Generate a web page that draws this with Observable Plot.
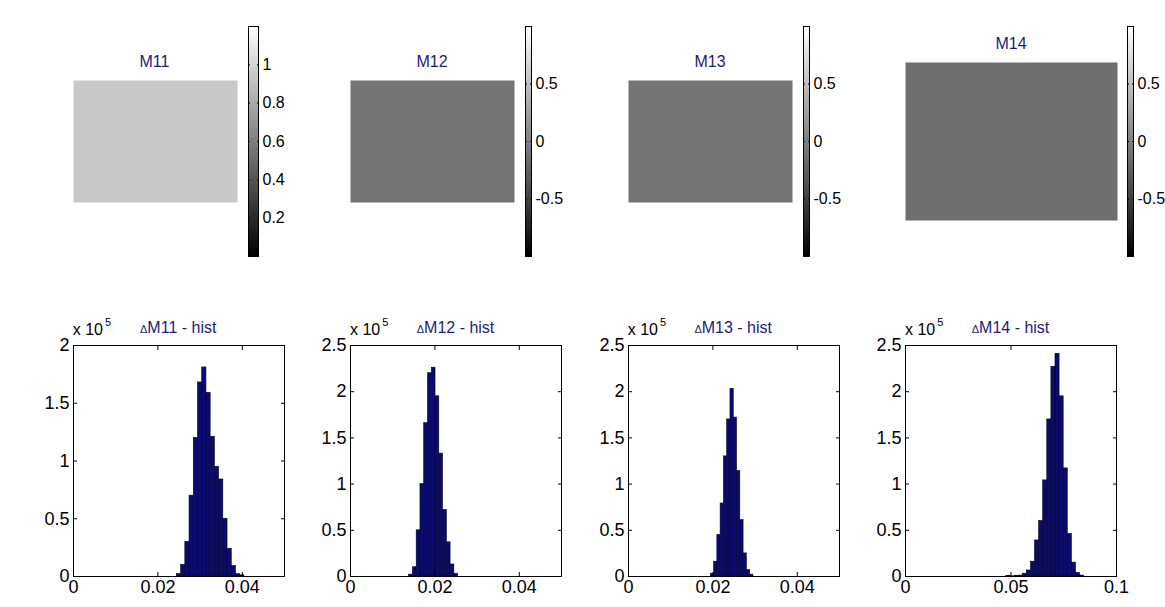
<!DOCTYPE html>
<html><head><meta charset="utf-8">
<script src="https://cdn.jsdelivr.net/npm/d3@7"></script>
<script src="https://cdn.jsdelivr.net/npm/@observablehq/plot@0.6"></script>
<style>
html,body{margin:0;padding:0;background:#fff;}
#root{position:relative;width:1165px;height:607px;overflow:hidden;font-family:"Liberation Sans",Arial,sans-serif;background:#fff;}
.title{position:absolute;color:#1c1c78;font-size:16px;white-space:nowrap;transform:translateX(-50%);line-height:1;}
.mult{position:absolute;color:#000;font-size:16px;white-space:nowrap;line-height:1;}
.mult sup{font-size:11px;position:relative;top:-3px;margin-left:2px;}
svg{overflow:visible;}
</style></head><body><div id="root"></div>
<script>
// ---- data ----
const matrixNames = ["M11", "M12", "M13", "M14"];
const imageValues = [0.94, -0.08, -0.08, -0.14];
const colorbarLow = [0, -1, -1, -1];
const colorbarHigh = [1.2, 1, 1, 1];
const colorbarTicks = [[0.2, 0.4, 0.6, 0.8, 1], [-0.5, 0, 0.5], [-0.5, 0, 0.5], [-0.5, 0, 0.5]];

const histNames = ["M11", "M12", "M13", "M14"];
const hist11Counts = [0.02, 0.10, 0.30, 0.70, 1.20, 1.68, 1.81, 1.59, 1.21, 0.95, 0.84, 0.50, 0.24, 0.09, 0.02, 0.01];
const hist12Counts = [0.02, 0.10, 0.50, 1.00, 1.66, 2.20, 2.26, 1.95, 1.33, 0.72, 0.37, 0.13, 0.03];
const hist13Counts = [0.03, 0.16, 0.45, 0.79, 1.30, 1.70, 2.03, 1.72, 1.14, 0.61, 0.25, 0.07, 0.02];
const hist14Counts = [0.004, 0.002, 0.004, 0.01, 0.03, 0.065, 0.16, 0.39, 0.60, 1.04, 1.70, 2.27, 2.41, 1.95, 1.17, 0.46, 0.15, 0.04, 0.01];
const histBinStart = [0.0245, 0.0139, 0.0195, 0.0478];
const histBinEnd = [0.0405, 0.0255, 0.0296, 0.08466];
const histXMax = [0.05, 0.05, 0.05, 0.1];
const histXTicks = [[0, 0.02, 0.04], [0, 0.02, 0.04], [0, 0.02, 0.04], [0, 0.05, 0.1]];
const histYMax = [2, 2.5, 2.5, 2.5];
const histYTicks = [[0, 0.5, 1, 1.5, 2], [0, 0.5, 1, 1.5, 2, 2.5], [0, 0.5, 1, 1.5, 2, 2.5], [0, 0.5, 1, 1.5, 2, 2.5]];

// ---- layout (pixels) ----
const imgBoxes = [{x: 72.5, y: 80, w: 164, h: 122}, {x: 350, y: 80, w: 164, h: 122}, {x: 628, y: 80, w: 164, h: 122}, {x: 905, y: 62, w: 212, h: 158}];
const cbBoxes = [{x: 248.3, w: 10}, {x: 524.7, w: 6}, {x: 802.7, w: 6}, {x: 1127, w: 6}];
const cbTop = 26, cbHeight = 230;
const histLeft = [72.7, 350, 627.7, 905];
const histTop = 345, histW = 211, histH = 231;
const FONT = "Liberation Sans, Arial, sans-serif";

const root = document.getElementById("root");
function place(el, x, y) {
  el.style.position = "absolute";
  el.style.left = x + "px";
  el.style.top = y + "px";
  root.appendChild(el);
}
function addDiv(cls, html, x, y) {
  const d = document.createElement("div");
  d.className = cls;
  d.innerHTML = html;
  d.style.left = x + "px";
  d.style.top = y + "px";
  root.appendChild(d);
}
const grayScale = (lo, hi) => ({type: "linear", domain: [lo, hi], range: ["black", "white"], interpolate: "rgb"});

// ---- top row: images + colorbars ----
for (let i = 0; i < 4; i++) {
  const b = imgBoxes[i];
  const img = Plot.plot({
    width: b.w, height: b.h, margin: 0,
    style: {background: "transparent"},
    x: {domain: [0, 1], axis: null},
    y: {domain: [0, 1], axis: null},
    color: grayScale(colorbarLow[i], colorbarHigh[i]),
    marks: [Plot.raster([imageValues[i]], {width: 1, height: 1, fill: d => d})]
  });
  place(img, b.x, b.y);
  addDiv("title", matrixNames[i], b.x + b.w / 2, b.y - 26.5);

  const c = cbBoxes[i];
  const lo = colorbarLow[i], hi = colorbarHigh[i];
  const cb = Plot.plot({
    width: c.w + 45, height: cbHeight, marginLeft: 0, marginRight: 45, marginTop: 0, marginBottom: 0,
    style: {background: "transparent", fontSize: "16px", fontFamily: FONT, color: "black", overflow: "visible"},
    x: {domain: [0, 1], axis: null},
    y: {domain: [lo, hi]},
    color: grayScale(lo, hi),
    marks: [
      Plot.raster({x1: 0, x2: 1, y1: lo, y2: hi, width: 1, height: cbHeight, fill: (x, y) => y}),
      Plot.frame({stroke: "black", strokeWidth: 1}),
      Plot.axisY({anchor: "right", ticks: colorbarTicks[i], tickFormat: String, tickSize: -2, tickPadding: 6, label: null}),
      Plot.axisY({anchor: "left", ticks: colorbarTicks[i], tickSize: -2, fill: "none", label: null})
    ]
  });
  place(cb, c.x, cbTop);
}

// ---- bottom row: histograms ----
const histCounts = [hist11Counts, hist12Counts, hist13Counts, hist14Counts];
const mL = 45, mR = 6, mT = 6, mB = 30;
for (let i = 0; i < 4; i++) {
  const counts = histCounts[i];
  const w = (histBinEnd[i] - histBinStart[i]) / counts.length;
  const bins = counts.map((c, k) => ({x1: histBinStart[i] + k * w, x2: histBinStart[i] + (k + 1) * w, count: c}));
  const p = Plot.plot({
    width: histW + mL + mR, height: histH + mT + mB,
    marginLeft: mL, marginRight: mR, marginTop: mT, marginBottom: mB,
    style: {background: "transparent", fontSize: "18px", fontFamily: FONT, color: "black", overflow: "visible"},
    x: {domain: [0, histXMax[i]]},
    y: {domain: [0, histYMax[i]]},
    marks: [
      Plot.rectY(bins, {x1: "x1", x2: "x2", y: "count", fill: "#0b0b6e", stroke: "#00002c", strokeWidth: 0.6}),
      Plot.frame({stroke: "black", strokeWidth: 1}),
      Plot.axisX({ticks: histXTicks[i], tickFormat: String, tickSize: -4, tickPadding: 8, label: null}),
      Plot.axisX({anchor: "top", ticks: histXTicks[i], tickSize: -4, fill: "none", label: null}),
      Plot.axisY({ticks: histYTicks[i], tickFormat: String, tickSize: -4, tickPadding: 8, label: null}),
      Plot.axisY({anchor: "right", ticks: histYTicks[i], tickSize: -4, fill: "none", label: null})
    ]
  });
  place(p, histLeft[i] - mL, histTop - mT);
  addDiv("title", '<span style="font-size:11px">Δ</span>' + histNames[i] + " - hist", histLeft[i] + histW / 2, 319.5);
  addDiv("mult", "x 10<sup>5</sup>", histLeft[i], 319.5);
}
</script></body></html>
